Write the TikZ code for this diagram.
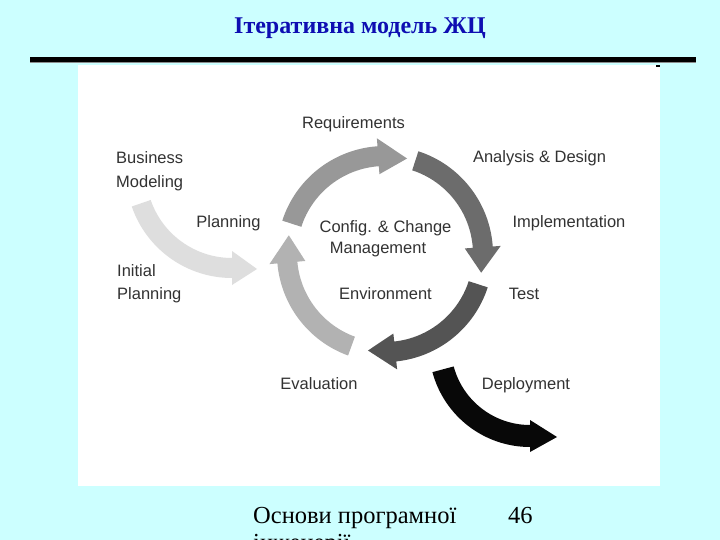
\documentclass[tikz,border=0pt]{standalone}
\usepackage{fontspec}
\setmainfont{Liberation Serif}
\newfontfamily\diafont{Liberation Sans}
\usetikzlibrary{calc}
\definecolor{bgcyan}{RGB}{204,255,255}
\definecolor{titleblue}{RGB}{14,14,178}
\definecolor{txtgray}{RGB}{50,50,50}
\definecolor{gA}{RGB}{152,152,152}
\definecolor{gB}{RGB}{108,108,108}
\definecolor{gC}{RGB}{84,84,84}
\definecolor{gD}{RGB}{178,178,178}
\definecolor{gE}{RGB}{222,222,222}
\definecolor{gF}{RGB}{8,8,8}
% #1 colour, #2 centre, #3 radius, #4 shaft half width, #5 head half width,
% #6 tail angle, #7 head base angle, #8 tip coordinate
\newcommand\arcarrow[8]{%
  \pgfmathsetmacro\arrRo{#3+#4}\pgfmathsetmacro\arrRi{#3-#4}%
  \pgfmathsetmacro\arrHo{#3+#5}\pgfmathsetmacro\arrHi{#3-#5}%
  \fill[#1] ($(#2)+(#6:\arrRo)$) arc[start angle=#6, end angle=#7, radius=\arrRo]
    -- ($(#2)+(#7:\arrHo)$) -- #8 -- ($(#2)+(#7:\arrHi)$) -- ($(#2)+(#7:\arrRi)$)
    arc[start angle=#7, end angle=#6, radius=\arrRi] -- cycle;}
\begin{document}
\begin{tikzpicture}[x=1pt,y=1pt,
  lbl/.style={font=\diafont\fontsize{16.5}{19}\selectfont, text=txtgray, inner sep=0pt, text height=12pt, text depth=0pt},
  ttl/.style={font=\bfseries\fontsize{24}{28}\selectfont, text=titleblue, inner sep=0pt},
  foot/.style={font=\fontsize{24.5}{29}\selectfont, text=black, inner sep=0pt}]
\clip (0,0) rectangle (720,-540);
\fill[bgcyan] (0,0) rectangle (720,-540);
% title and rule
\node[ttl, anchor=base] (title) at (360,-34) {Ітеративна модель ЖЦ};
\fill[black!45] (30,-61) rectangle (696,-63.5);
\fill[black] (30,-57) rectangle (696,-62);
% picture area
\fill[white] (78,-65) rectangle (660,-486);
\fill[black] (656,-65.2) rectangle (660,-66.8);
% cycle
\coordinate (C) at (385,-254);
\arcarrow{gA}{C}{98}{10}{18}{162}{94}{($(C)+(77:98)$)}
\arcarrow{gB}{C}{98}{10}{18}{72}{4}{($(C)+(-11:98)$)}
\arcarrow{gC}{C}{98}{10}{18}{-18}{-84}{($(C)+(-100:98)$)}
\arcarrow{gD}{C}{98}{10}{18}{-110}{-175}{($(C)+(-191:98)$)}
% planning arrow
\coordinate (P) at (232,-172);
\coordinate (Ptip) at (257,-269);
\arcarrow{gE}{P}{96}{10}{17}{199}{270}{(Ptip)}
% deployment arrow
\coordinate (D) at (530,-346);
\coordinate (Dtip) at (557,-437);
\arcarrow{gF}{D}{90}{11}{16}{195}{270}{(Dtip)}
% labels
\node[lbl] (req) at (353.5,-123) {Requirements};
\node[lbl] (ana) at (539.5,-157) {Analysis \& Design};
\node[lbl] (imp) at (569,-221) {Implementation};
\node[lbl] (tst) at (524,-293) {Test};
\node[lbl] (dep) at (526,-383) {Deployment};
\node[lbl] (eva) at (319,-383) {Evaluation};
\node[lbl] (env) at (385.5,-293) {Environment};
\node[lbl] (cfg) at (385.5,-227) {Config. \& Change};
\node[lbl] (mgt) at (378,-248) {Management};
\node[lbl] (pln) at (228.5,-222) {Planning};
\node[lbl, anchor=west] (bus) at (116,-158) {Business};
\node[lbl, anchor=west] (mod) at (116,-182) {Modeling};
\node[lbl, anchor=west] (ini) at (117,-270) {Initial};
\node[lbl, anchor=west] (ipl) at (117,-293) {Planning};
% footer
\node[foot, anchor=base west] (f1) at (253,-523) {Основи програмної};
\node[foot, anchor=base west] (f2) at (253,-550) {інженерії};
\node[foot, anchor=base west] (pg) at (508,-523) {46};
\end{tikzpicture}
\end{document}
